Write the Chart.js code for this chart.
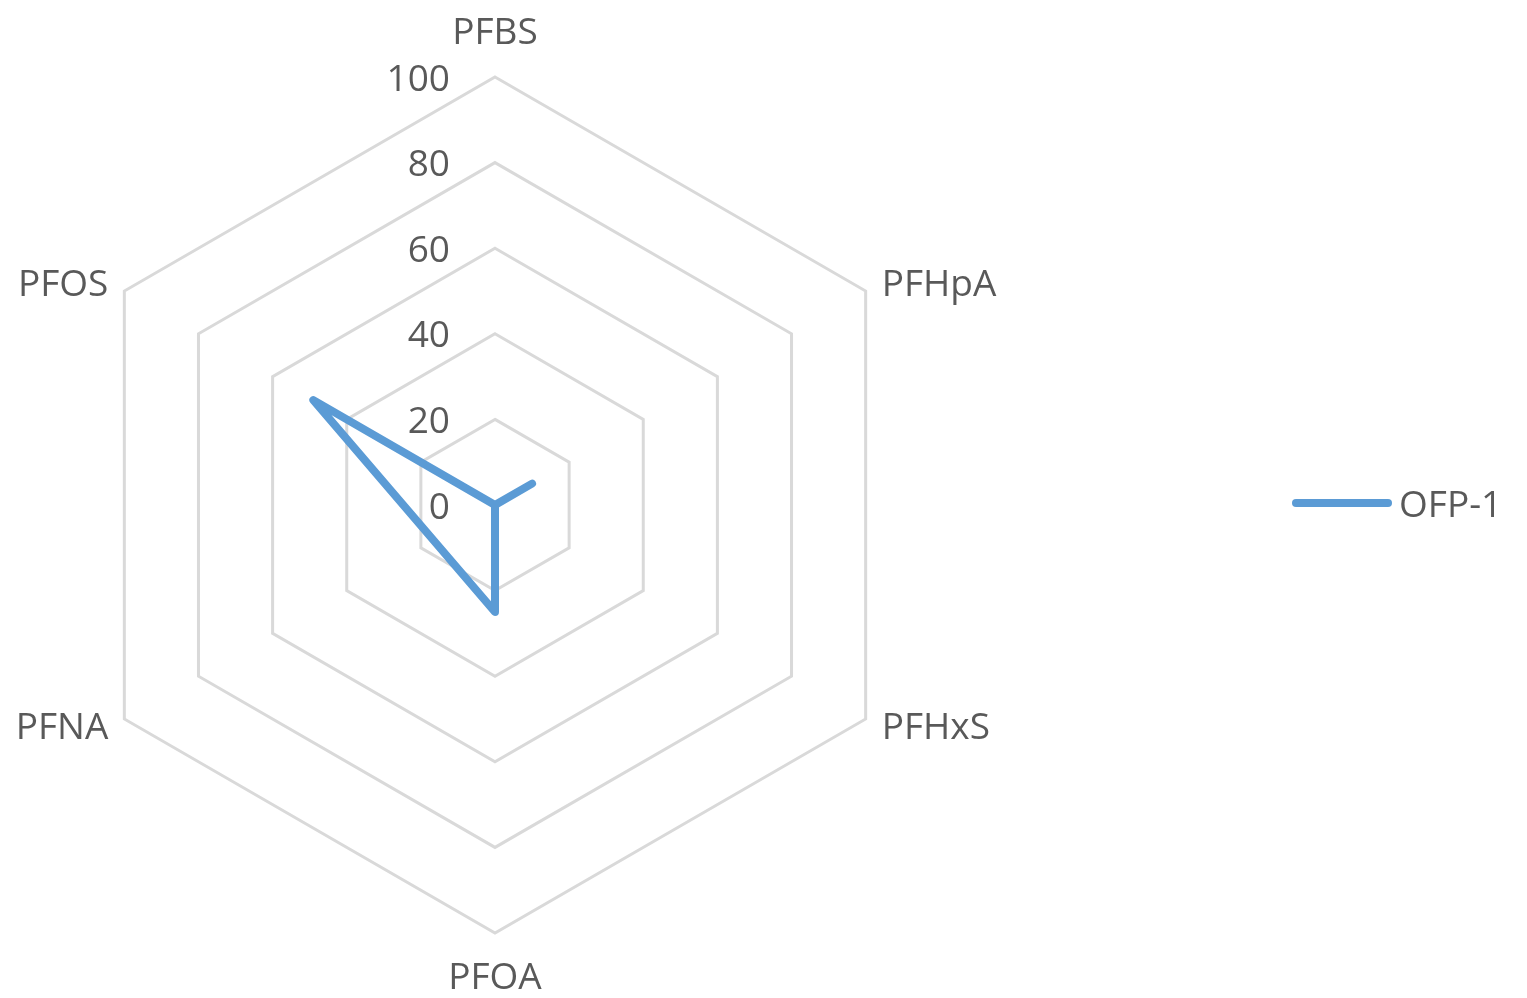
<!DOCTYPE html>
<html>
<head>
<meta charset="utf-8">
<script src="https://cdn.jsdelivr.net/npm/chart.js@4"></script>
<style>
  html, body { margin: 0; padding: 0; background: #fff; }
  #wrap { width: 1527px; height: 998px; }
</style>
</head>
<body>
<div id="wrap"><canvas id="myChart"></canvas></div>
<script>
// Compounds around the radar, clockwise from the top
const categories = ['PFBS', 'PFHpA', 'PFHxS', 'PFOA', 'PFNA', 'PFOS'];
// OFP-1 values (PFNA has no value, line spans the gap)
const ofp1 = [0, 10, 0, 25, null, 49];
const tickValues = [0, 20, 40, 60, 80, 100];
const seriesName = 'OFP-1';

const FONT = '"Open Sans", "Noto Sans", sans-serif';
const TEXT_COLOR = '#595959';
const LINE_COLOR = '#5b9bd5';

// Tick labels sit left of the vertical axis, point labels around the hexagon
const labelsPlugin = {
  id: 'radarLabels',
  afterDraw(chart) {
    const ctx = chart.ctx;
    const r = chart.scales.r;
    ctx.save();
    ctx.fillStyle = TEXT_COLOR;
    ctx.font = '37px ' + FONT;

    ctx.textAlign = 'right';
    ctx.textBaseline = 'middle';
    tickValues.forEach(v => {
      const d = r.getDistanceFromCenterForValue(v);
      ctx.fillText(String(v), r.xCenter - 45, r.yCenter - d + 3);
    });

    categories.forEach((name, i) => {
      const p = r.getPointPosition(i, r.drawingArea);
      let x = p.x, y = p.y + 3;
      if (i === 0) { ctx.textAlign = 'center'; y -= 47; }
      else if (i === 3) { ctx.textAlign = 'center'; y += 42; }
      else if (i === 1 || i === 2) { ctx.textAlign = 'left'; x += 16; y += (i === 1 ? -9 : 6); }
      else { ctx.textAlign = 'right'; x -= 16; y += (i === 5 ? -9 : 6); }
      ctx.fillText(name, x, y);
    });

    // legend entry
    const ly = 503;
    ctx.strokeStyle = LINE_COLOR;
    ctx.lineWidth = 8;
    ctx.lineCap = 'round';
    ctx.beginPath();
    ctx.moveTo(1296, ly);
    ctx.lineTo(1388, ly);
    ctx.stroke();
    ctx.textAlign = 'left';
    ctx.fillText(seriesName, 1399, ly + 3);
    ctx.restore();
  }
};

const ctx = document.getElementById('myChart').getContext('2d');

const myChart = new Chart(ctx, {
  type: 'radar',
  data: {
    labels: categories,
    datasets: [{
      label: seriesName,
      data: ofp1,
      borderColor: LINE_COLOR,
      backgroundColor: LINE_COLOR,
      borderWidth: 8,
      borderJoinStyle: 'round',
      borderCapStyle: 'round',
      fill: false,
      pointRadius: 0,
      spanGaps: true,
      tension: 0
    }]
  },
  options: {
    responsive: true,
    maintainAspectRatio: false,
    animation: false,
    layout: {
      padding: { left: 67, top: 77, right: 604, bottom: 65 }
    },
    plugins: {
      legend: { display: false },
      tooltip: { enabled: false }
    },
    scales: {
      r: {
        min: 0,
        max: 100,
        ticks: { stepSize: 20, display: false },
        pointLabels: { display: false },
        angleLines: { display: false },
        grid: { color: '#d9d9d9', lineWidth: 3 }
      }
    }
  },
  plugins: [labelsPlugin]
});
</script>
</body>
</html>
